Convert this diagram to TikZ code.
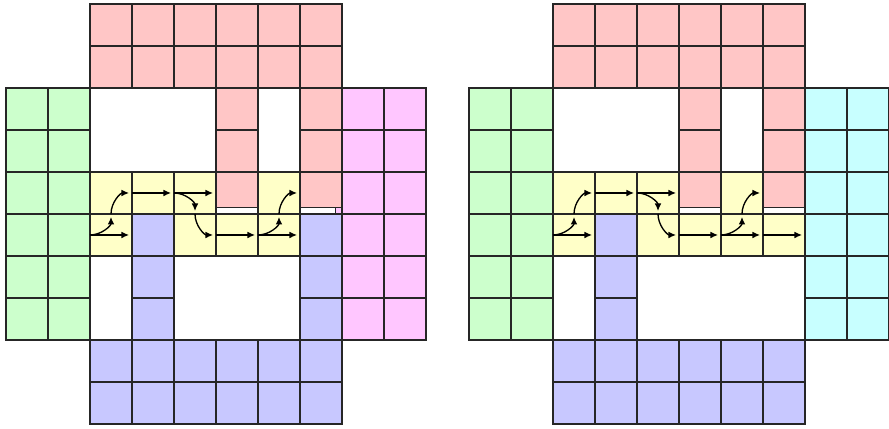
\documentclass[tikz,border=0pt]{standalone}
\usetikzlibrary{arrows.meta}
\definecolor{redcell}{RGB}{255,198,198}
\definecolor{greencell}{RGB}{204,255,204}
\definecolor{bluecell}{RGB}{200,200,255}
\definecolor{yellowcell}{RGB}{255,255,200}
\definecolor{pinkcell}{RGB}{255,198,255}
\definecolor{cyancell}{RGB}{200,255,255}

\begin{document}
\begin{tikzpicture}[cell/.style = {draw=black!85, line width=0.8pt, minimum size=1cm, inner sep=0pt, outer sep=0pt}, flow/.style = {-{Latex[length=1.8mm, width=1.6mm]}, line width=0.9pt, shorten >=2pt}]

    \useasboundingbox (-0.143,-0.119) rectangle (21.024,10.095);

    \foreach \f/\dx/\side in {a/0/pinkcell, b/11.024/cyancell} {
        \foreach \c in {2,...,7} \foreach \r in {0,1}
            \node[cell, fill=redcell] (\f-\c-\r) at (\dx+\c+0.5, 9.5-\r) {};
        \foreach \c in {5,7} {
            \foreach \r in {2,3}
                \node[cell, fill=redcell] (\f-\c-\r) at (\dx+\c+0.5, 9.5-\r) {};
            \node[cell, fill=redcell, minimum height=0.85cm, anchor=north] (\f-\c-4) at (\dx+\c+0.5, 6) {};
        }
        \foreach \c in {0,1} \foreach \r in {2,...,7}
            \node[cell, fill=greencell] (\f-\c-\r) at (\dx+\c+0.5, 9.5-\r) {};
        \foreach \c in {8,9} \foreach \r in {2,...,7}
            \node[cell, fill=\side] (\f-\c-\r) at (\dx+\c+0.5, 9.5-\r) {};
        \foreach \c in {2,...,7} \foreach \r in {8,9}
            \node[cell, fill=bluecell] (\f-\c-\r) at (\dx+\c+0.5, 9.5-\r) {};
        \foreach \r in {5,6,7}
            \node[cell, fill=bluecell] (\f-3-\r) at (\dx+3.5, 9.5-\r) {};
        \foreach \c/\r in {2/4, 3/4, 4/4, 6/4, 2/5, 4/5, 5/5, 6/5}
            \node[cell, fill=yellowcell] (\f-\c-\r) at (\dx+\c+0.5, 9.5-\r) {};

        \draw[flow] (\f-2-5.west) -- (\f-2-5.east);
        \draw[flow] (\f-2-5.west) to[out=0, in=-90] (\f-2-5.north);
        \draw[flow] (\f-2-4.south) to[out=90, in=180] (\f-2-4.east);
        \draw[flow] (\f-3-4.west) -- (\f-3-4.east);
        \draw[flow] (\f-4-4.west) -- (\f-4-4.east);
        \draw[flow] (\f-4-4.west) to[out=0, in=90] (\f-4-4.south);
        \draw[flow] (\f-4-5.north) to[out=-90, in=180] (\f-4-5.east);
        \draw[flow] (\f-5-5.west) -- (\f-5-5.east);
        \draw[flow] (\f-6-5.west) -- (\f-6-5.east);
        \draw[flow] (\f-6-5.west) to[out=0, in=-90] (\f-6-5.north);
        \draw[flow] (\f-6-4.south) to[out=90, in=180] (\f-6-4.east);
    }

    \foreach \r in {5,6,7}
        \node[cell, fill=bluecell] (a-7-\r) at (7.5, 9.5-\r) {};
    \node[cell, fill=pinkcell, minimum size=0.15cm, anchor=south east] (a-notch) at (8,5) {};

    \node[cell, fill=yellowcell] (b-7-5) at (18.524, 4.5) {};
    \draw[flow] (b-7-5.west) -- (b-7-5.east);

\end{tikzpicture}
\end{document}
